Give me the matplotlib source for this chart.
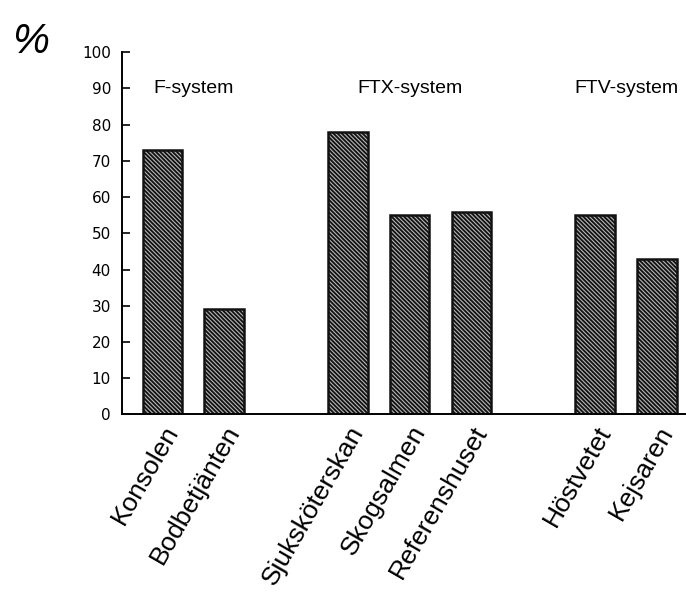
import matplotlib
matplotlib.use("Agg")
import matplotlib.pyplot as plt

# data
categories = ["Konsolen", "Bodbetjänten", "Sjuksköterskan", "Skogsalmen",
              "Referenshuset", "Höstvetet", "Kejsaren"]
values = [73, 29, 78, 55, 56, 55, 43]
groups = ["F-system", "FTX-system", "FTV-system"]
group_sizes = [2, 3, 2]
yticks = [0, 10, 20, 30, 40, 50, 60, 70, 80, 90, 100]

plt.rcParams["font.family"] = ["Liberation Sans", "DejaVu Sans"]
plt.rcParams["hatch.linewidth"] = 1.3

# x positions: one slot per bar, empty slot between groups
positions = []
group_centers = []
x = 0
for size in group_sizes:
    start = x
    for _ in range(size):
        positions.append(x)
        x += 1
    group_centers.append((start + x - 1) / 2)
    x += 1

fig = plt.figure(figsize=(6.86, 5.97), dpi=100, facecolor="white")
ax = fig.add_axes([0.178, 0.3057, 0.822, 0.607])

ax.bar(positions, values, width=0.64, facecolor="#b5b5b5", edgecolor="#111111",
       hatch="\\" * 8, linewidth=1.8)

ax.set_xlim(-0.65, 8.47)
ax.set_ylim(0, 100)
ax.set_yticks(yticks)
ax.set_yticklabels([str(t) for t in yticks], family="DejaVu Sans", fontsize=11)
ax.tick_params(axis="y", direction="in", length=6, width=1.2, pad=8)
ax.tick_params(axis="x", length=0, pad=5)
ax.set_xticks(positions)
ax.set_xticklabels(categories, rotation=60, ha="right", va="top",
                   rotation_mode="anchor", fontsize=19)

for s in ["top", "right"]:
    ax.spines[s].set_visible(False)
ax.spines["left"].set_linewidth(1.4)
ax.spines["bottom"].set_linewidth(1.4)

for name, c in zip(groups, group_centers):
    ax.text(c, 90, name, ha="center", va="center", fontsize=14)

fig.text(0.045, 0.93, "%", fontsize=30, ha="center", va="center", style="italic")

fig.savefig("out.png", dpi=100, facecolor="white")
